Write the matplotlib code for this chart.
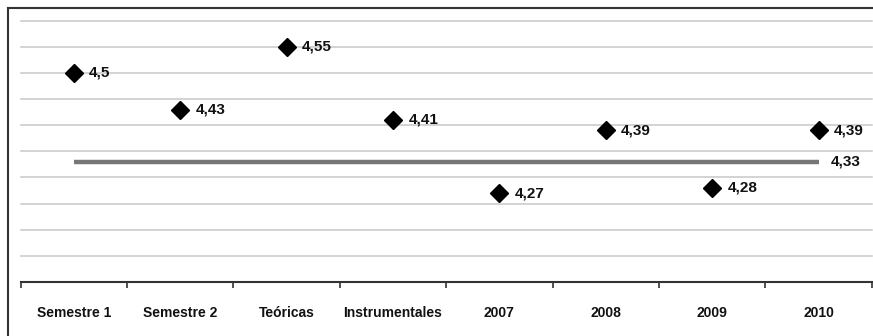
import matplotlib.pyplot as plt
from matplotlib.lines import Line2D

categories = ['Semestre 1', 'Semestre 2', 'Teóricas', 'Instrumentales',
              '2007', '2008', '2009', '2010']
values = [4.5, 4.43, 4.55, 4.41, 4.27, 4.39, 4.28, 4.39]
labels = ['4,5', '4,43', '4,55', '4,41', '4,27', '4,39', '4,28', '4,39']
mean_value = 4.33
mean_label = '4,33'

plt.rcParams['font.family'] = ['Liberation Sans', 'DejaVu Sans']

fig = plt.figure(figsize=(8.73, 3.36), dpi=100)
W, H = 873, 336
ax = fig.add_axes([20.7 / W, 1 - 282 / H, (871.7 - 20.7) / W, (282 - 20.7) / H])

x = list(range(len(categories)))

# gridlines
grid_vals = [4.15 + 0.05 * i for i in range(10)]
for g in grid_vals:
    ax.axhline(g, color='#c8c8c8', lw=1.1, zorder=1, clip_on=False)

# mean line
ax.plot([x[0], x[-1]], [mean_value, mean_value], color='#777777', lw=3.2,
        solid_capstyle='butt', zorder=2)
ax.annotate(mean_label, (x[-1], mean_value), xytext=(9, 0), textcoords='offset points',
            va='center', ha='left', fontsize=11, fontweight='bold', color='#111111',
            annotation_clip=False)

# points
ax.plot(x, values, linestyle='none', marker='D', markersize=9, color='black', zorder=3)
for xi, v, lab in zip(x, values, labels):
    ax.annotate(lab, (xi, v), xytext=(11, 0), textcoords='offset points',
                va='center', ha='left', fontsize=11, fontweight='bold', color='#111111')

ax.set_xlim(-0.5, len(categories) - 0.5)
ax.set_ylim(4.1, 4.6)
ax.set_yticks([])
ax.set_xticks(x)
ax.set_xticklabels(categories, fontsize=10, fontweight='bold', color='#111111')
ax.tick_params(axis='x', which='major', length=0, pad=17)
ax.set_xticks([i - 0.5 for i in range(len(categories) + 1)], minor=True)
ax.tick_params(axis='x', which='minor', length=4, width=1.2, color='#333333', direction='out')

for s in ['left', 'right', 'top']:
    ax.spines[s].set_visible(False)
ax.spines['bottom'].set_color('#333333')
ax.spines['bottom'].set_linewidth(1.5)

# outer frame (left and top)
fig.add_artist(Line2D([8 / W, 8 / W], [0, 1 - 7.5 / H], color='#333333', lw=1.5))
fig.add_artist(Line2D([8 / W, 1], [1 - 7.5 / H, 1 - 7.5 / H], color='#333333', lw=1.5))

fig.savefig('out.png', dpi=100)
